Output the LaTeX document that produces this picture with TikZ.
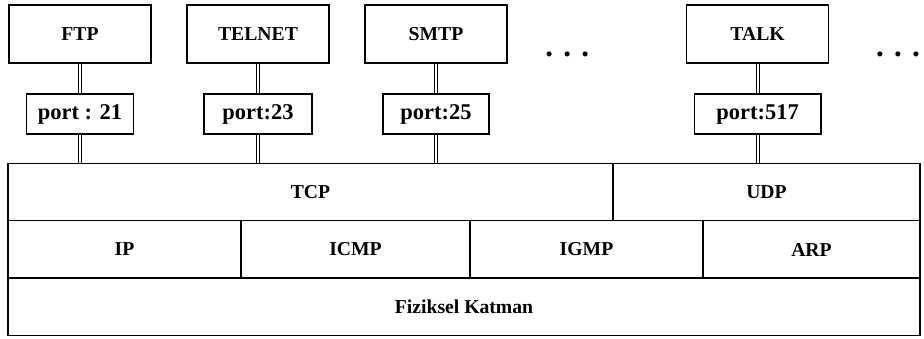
\documentclass[tikz,border=0pt]{standalone}
\usepackage{fontspec}
\setmainfont{Liberation Serif}
\begin{document}
\begin{tikzpicture}[
      font=\bfseries\fontsize{14}{16}\selectfont,
      app/.style={draw, line width=0.9pt, minimum width=3.55cm, minimum height=1.45cm, inner sep=1pt},
      port/.style={draw, line width=0.9pt, minimum height=1.0cm, inner sep=1pt, font=\bfseries\fontsize{16}{18}\selectfont},
      cell/.style={draw, line width=0.9pt, minimum height=1.44cm, inner sep=0pt, outer sep=0pt},
      bag/.style={double, line width=0.75pt, double distance=1.4pt},
      dots/.style={font=\bfseries\fontsize{22}{22}\selectfont, inner sep=0pt}
    ]
      \useasboundingbox (0,0) rectangle (23.1,8.45);

      \node[app] (ftp) at (2.0,7.6) {FTP};
      \node[app] (telnet) at (6.45,7.6) {TELNET};
      \node[app] (smtp) at (10.9,7.6) {SMTP};
      \node[app] (talk) at (18.94,7.6) {TALK};
      \node[dots] (dots1) at (14.18,7.1) {.\,\,.\,\,.};
      \node[dots] (dots2) at (22.45,7.1) {.\,\,.\,\,.};

      \node[port, minimum width=2.68cm] (p21) at (2.0,5.6) {port : 21};
      \node[port, minimum width=2.7cm] (p23) at (6.45,5.6) {port:23};
      \node[port, minimum width=2.65cm] (p25) at (10.9,5.6) {port:25};
      \node[port, minimum width=3.17cm] (p517) at (18.94,5.6) {port:517};

      \node[cell, minimum width=15.125cm] (tcp) at (7.7625,3.65) {TCP};
      \node[cell, minimum width=7.675cm] (udp) at (19.1625,3.65) {UDP};
      \node[cell, minimum width=5.825cm] (ip) at (3.1125,2.2125) {IP};
      \node[cell, minimum width=5.725cm] (icmp) at (8.8875,2.2125) {ICMP};
      \node[cell, minimum width=5.825cm] (igmp) at (14.6625,2.2125) {IGMP};
      \node[cell, minimum width=5.425cm] (arp) at (20.2875,2.2125) {ARP};
      \node[cell, minimum width=22.8cm] (fiz) at (11.6,0.7875) {Fiziksel Katman};

      \draw[bag] (ftp.south) -- (p21.north);
      \draw[bag] (telnet.south) -- (p23.north);
      \draw[bag] (smtp.south) -- (p25.north);
      \draw[bag] (talk.south) -- (p517.north);
      \draw[bag] (p21.south) -- (p21.south |- tcp.north);
      \draw[bag] (p23.south) -- (p23.south |- tcp.north);
      \draw[bag] (p25.south) -- (p25.south |- tcp.north);
      \draw[bag] (p517.south) -- (p517.south |- udp.north);
    \end{tikzpicture}
\end{document}
